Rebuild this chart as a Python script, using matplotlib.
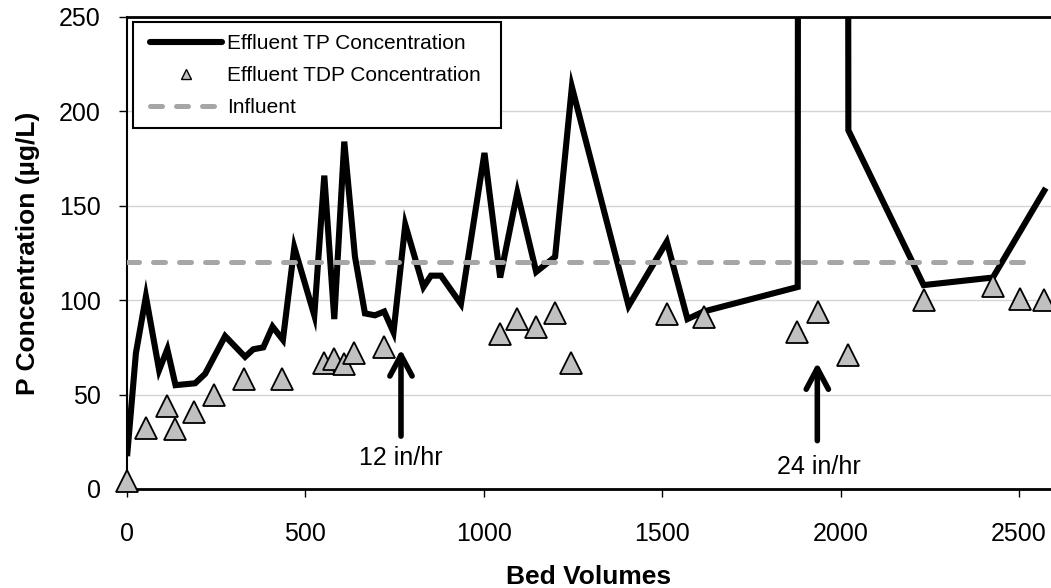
import matplotlib
matplotlib.use("Agg")
import matplotlib.pyplot as plt
from matplotlib.lines import Line2D
from matplotlib.patches import Rectangle

plt.rcParams['font.family'] = ['Liberation Sans', 'DejaVu Sans']

# Effluent total phosphorus (TP) vs bed volumes
tp_bv = [1, 25, 53, 90, 113, 136, 191, 219, 275, 331, 354, 382, 408, 437, 469,
         525, 553, 581, 609, 639, 667, 695, 721, 747, 780, 831, 852, 880, 936,
         1002, 1046, 1094, 1147, 1200, 1247, 1406, 1513, 1571, 1616, 1880, 1883,
         2018, 2022, 2233, 2427, 2571]
tp_conc = [19, 72, 102, 63, 74, 55, 56, 61, 81, 70, 74, 75, 86, 79, 128,
           92, 166, 90, 184, 123, 93, 92, 94, 83, 140, 107, 113, 113, 98,
           178, 112, 157, 115, 123, 213, 97, 131, 90, 94, 107, 900,
           900, 190, 108, 112, 158]

# Effluent total dissolved phosphorus (TDP)
tdp_bv = [1, 53, 113, 135, 189, 245, 329, 435, 553, 580, 607, 637, 721, 1046,
          1094, 1147, 1200, 1245, 1513, 1618, 1878, 1937, 2022, 2233, 2427, 2504,
          2571]
tdp_conc = [4, 32.5, 44, 32, 41, 50, 58, 58, 67, 69, 66, 72, 75, 82,
            90, 86, 93, 67, 92.5, 91, 83, 94, 71, 100, 107.5, 100.5,
            100]

# Influent concentration
influent_bv = [0, 2550]
influent_conc = [120, 120]

x_ticks = [0, 500, 1000, 1500, 2000, 2500]
y_ticks = [0, 50, 100, 150, 200, 250]

W, H = 1051, 588
fig = plt.figure(figsize=(W / 100, H / 100), dpi=100)
ax = fig.add_axes([127 / W, 1 - 489 / H, (1051 - 127) / W, (489 - 17) / H])

ax.set_xlim(0, 2590)
ax.set_ylim(0, 250)
ax.set_xticks(x_ticks)
ax.set_yticks(y_ticks)

ax.grid(axis='y', color='#d4d4d4', linewidth=1.0)
ax.set_axisbelow(True)

ax.plot(tp_bv, tp_conc, color='black', linewidth=4.4, solid_joinstyle='miter',
        zorder=3)
ax.plot(tdp_bv, tdp_conc, linestyle='none', marker='^', markersize=15.5,
        markerfacecolor='#c0c0c0', markeredgecolor='black', markeredgewidth=1.3,
        clip_on=False, zorder=4)
ax.plot(influent_bv, influent_conc, color='#a6a6a6', linewidth=3.6,
        dashes=(2.4, 2.8), dash_capstyle='round', zorder=5)

# Flow-rate change markers
arrow_kw = dict(arrowstyle='->,head_length=0.75,head_width=0.4', lw=4,
                color='black', mutation_scale=20, shrinkA=0, shrinkB=0)
ax.annotate('', xy=(768, 74), xytext=(768, 28), arrowprops=arrow_kw)
ax.text(768, 16.4, '12 in/hr', ha='center', va='center', fontsize=18)
ax.annotate('', xy=(1935, 67), xytext=(1935, 25.6), arrowprops=arrow_kw)
ax.text(1940, 11.8, '24 in/hr', ha='center', va='center', fontsize=18)

for side in ('top', 'bottom', 'left'):
    ax.spines[side].set_color('black')
ax.spines['right'].set_visible(False)
ax.spines['top'].set_linewidth(2.0)
ax.spines['bottom'].set_linewidth(2.0)
ax.spines['left'].set_linewidth(1.5)

ax.tick_params(axis='x', direction='out', length=6, width=1.0, pad=18,
               labelsize=18, top=False)
ax.tick_params(axis='y', direction='out', length=6, width=1.0, pad=13,
               labelsize=18, right=False)

ax.set_xlabel('Bed Volumes', fontsize=19, fontweight='bold')
ax.set_ylabel('P Concentration (µg/L)', fontsize=19, fontweight='bold')
ax.xaxis.set_label_coords(0.5, -0.160)
ax.yaxis.set_label_coords(-0.094, 0.5)

# Legend box drawn as its own frame so the entries can sit inset within it
frame = Rectangle((133 / W, 1 - 128 / H), (501 - 133) / W, (128 - 22) / H,
                  transform=fig.transFigure, facecolor='white',
                  edgecolor='black', linewidth=1.5, zorder=5.5)
fig.add_artist(frame)

handles = [
    Line2D([], [], color='black', linewidth=4.4, solid_capstyle='round'),
    Line2D([], [], linestyle='none', marker='^', markersize=7,
           markerfacecolor='#c0c0c0', markeredgecolor='black',
           markeredgewidth=1.0),
    Line2D([], [], color='#a6a6a6', linewidth=3.6, dashes=(2.4, 2.8),
           dash_capstyle='round'),
]
labels = ['Effluent TP Concentration', 'Effluent TDP Concentration', 'Influent']
leg = fig.legend(handles, labels, loc='upper left',
                 bbox_to_anchor=(150 / W, 1 - 34 / H),
                 bbox_transform=fig.transFigure, borderaxespad=0,
                 fontsize=15, handlelength=3.45, handletextpad=0.25,
                 labelspacing=0.63, borderpad=0, frameon=False)
leg.set_zorder(6)

fig.savefig('out.png', dpi=100)
